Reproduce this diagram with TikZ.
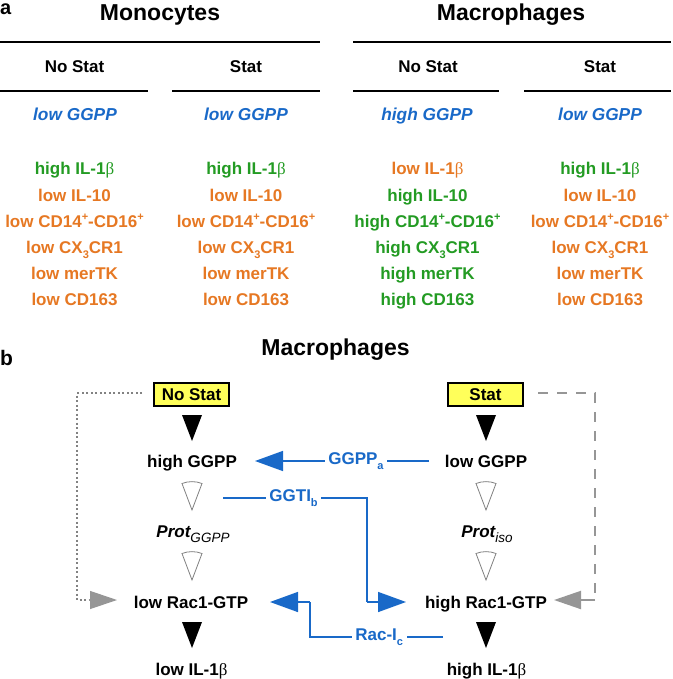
\documentclass[tikz,border=0pt]{standalone}
\usepackage{fontspec}
\setmainfont{Liberation Sans}
\newfontfamily\betafont{Liberation Serif}
\usetikzlibrary{arrows.meta}
\definecolor{myblue}{RGB}{25,105,200}
\definecolor{mygreen}{RGB}{35,155,35}
\definecolor{myorange}{RGB}{230,120,35}
\definecolor{myyellow}{RGB}{255,255,90}
\definecolor{mygray}{RGB}{150,150,150}
\definecolor{dotgray}{RGB}{130,130,130}
\newcommand\lsub[1]{\raisebox{-0.3em}{\fontsize{11}{11}\selectfont #1}}
\newcommand\lsup[1]{\raisebox{0.42em}{\fontsize{11}{11}\selectfont #1}}
\newcommand\bet{{\betafont\mdseries β}}
\newcommand\openwedge[2]{\draw[wedgestyle] (#1-10,#2+1.5) .. controls (#1-4,#2-1) and (#1+4,#2-1) .. (#1+10,#2+1.5) -- (#1,#2+28) -- cycle;}
\newcommand\blackwedge[2]{\fill[black] (#1-10,#2) -- (#1+10,#2) -- (#1,#2+26) -- cycle;}
\tikzset{
  titlestyle/.style={font=\fontsize{23}{26}\selectfont\bfseries, anchor=base, inner sep=0},
  hdr/.style={font=\fontsize{17}{20}\selectfont\bfseries, anchor=base, inner sep=0},
  grn/.style={hdr, text=mygreen},
  org/.style={hdr, text=myorange},
  ggstyle/.style={font=\fontsize{17.3}{20}\selectfont\bfseries\itshape, anchor=base, inner sep=0, text=myblue},
  rulestyle/.style={line width=2pt},
  boxstyle/.style={draw, line width=2pt, fill=myyellow, minimum width=75pt, minimum height=23pt, inner sep=0, font=\fontsize{17}{20}\selectfont\bfseries},
  bl/.style={myblue, line width=1.5pt},
  btip/.style={-{Triangle[length=28pt,width=20pt]}},
  gtip/.style={-{Triangle[length=27pt,width=18pt]}},
  bluelabel/.style={font=\fontsize{17}{20}\selectfont\bfseries, text=myblue, fill=white, inner sep=3.5pt},
  wedgestyle/.style={draw=gray, line width=0.8pt, fill=white},
}
\begin{document}
\begin{tikzpicture}[x=1pt,y=-1pt]
\useasboundingbox (0,0) rectangle (672,679);
% ---------- part a ----------
\node[titlestyle, anchor=base west, font=\fontsize{20}{24}\selectfont\bfseries] (la) at (0,15) {a};
\node[titlestyle] (mono) at (160,21) {Monocytes};
\node[titlestyle] (macro) at (511,21) {Macrophages};
\draw[rulestyle] (0,41.7) -- (320,41.7);
\draw[rulestyle] (353,41.7) -- (671,41.7);
\draw[rulestyle] (0,90.7) -- (148,90.7);
\draw[rulestyle] (172,90.7) -- (320,90.7);
\draw[rulestyle] (353,90.7) -- (499,90.7);
\draw[rulestyle] (524,90.7) -- (671,90.7);
\node[hdr] (h1) at (74.5,73) {No Stat};
\node[hdr] (h2) at (246,73) {Stat};
\node[hdr] (h3) at (428,73) {No Stat};
\node[hdr] (h4) at (600,73) {Stat};
\node[ggstyle] (g1) at (75,121) {low GGPP};
\node[ggstyle] (g2) at (246,121) {low GGPP};
\node[ggstyle] (g3) at (427,121) {high GGPP};
\node[ggstyle] (g4) at (600,121) {low GGPP};
% column 1
\node[grn] (a11) at (74.5,175) {high IL-1\bet};
\node[org] (a12) at (74.5,201.1) {low IL-10};
\node[org] (a13) at (74.5,227.3) {low CD14\lsup{+}-CD16\lsup{+}};
\node[org] (a14) at (74.5,253.4) {low CX\lsub{3}CR1};
\node[org] (a15) at (74.5,279.6) {low merTK};
\node[org] (a16) at (74.5,305.7) {low CD163};
% column 2
\node[grn] (a21) at (246,175) {high IL-1\bet};
\node[org] (a22) at (246,201.1) {low IL-10};
\node[org] (a23) at (246,227.3) {low CD14\lsup{+}-CD16\lsup{+}};
\node[org] (a24) at (246,253.4) {low CX\lsub{3}CR1};
\node[org] (a25) at (246,279.6) {low merTK};
\node[org] (a26) at (246,305.7) {low CD163};
% column 3
\node[org] (a31) at (427.5,175) {low IL-1\bet};
\node[grn] (a32) at (427.5,201.1) {high IL-10};
\node[grn] (a33) at (427.5,227.3) {high CD14\lsup{+}-CD16\lsup{+}};
\node[grn] (a34) at (427.5,253.4) {high CX\lsub{3}CR1};
\node[grn] (a35) at (427.5,279.6) {high merTK};
\node[grn] (a36) at (427.5,305.7) {high CD163};
% column 4
\node[grn] (a41) at (600,175) {high IL-1\bet};
\node[org] (a42) at (600,201.1) {low IL-10};
\node[org] (a43) at (600,227.3) {low CD14\lsup{+}-CD16\lsup{+}};
\node[org] (a44) at (600,253.4) {low CX\lsub{3}CR1};
\node[org] (a45) at (600,279.6) {low merTK};
\node[org] (a46) at (600,305.7) {low CD163};
% ---------- part b ----------
\node[titlestyle, anchor=base west, font=\fontsize{21}{24}\selectfont\bfseries] (lb) at (0,365) {b};
\node[titlestyle] (macrob) at (335.5,355) {Macrophages};
\node[boxstyle] (nostat) at (191.5,394.5) {No Stat};
\node[boxstyle] (stat) at (485.5,394.5) {Stat};
\node[hdr] (highggpp) at (192,467) {high GGPP};
\node[hdr] (lowggpp) at (486,467) {low GGPP};
\node[hdr] (protL) at (193,537) {\itshape Prot\lsub{\mdseries\fontsize{13.5}{14}\selectfont GGPP}};
\node[hdr] (protR) at (487,537) {\itshape Prot\lsub{\mdseries\fontsize{13.5}{14}\selectfont iso}};
\node[hdr] (lowrac) at (191,608) {low Rac1-GTP};
\node[hdr] (highrac) at (486,608) {high Rac1-GTP};
\node[hdr] (lowil) at (191.5,675) {low IL-1\bet};
\node[hdr] (highil) at (486.5,675) {high IL-1\bet};
% wedges
\blackwedge{192}{415}
\blackwedge{486}{415}
\blackwedge{192}{622}
\blackwedge{486}{622}
\openwedge{192}{482}
\openwedge{192}{552}
\openwedge{486}{482}
\openwedge{486}{552}
% gray feedback connectors
\coordinate (d1) at (142,393);
\coordinate (d2) at (77,393);
\coordinate (d3) at (77,600);
\coordinate (d4) at (117,600);
\draw[dotgray, line width=1.2pt, dash pattern=on 2pt off 2.5pt] (d1) -- (d2) -- (d3) -- (90,600);
\draw[mygray, line width=1.2pt, gtip] (89,600) -- (d4);
\coordinate (e1) at (538,393);
\coordinate (e2) at (595,393);
\coordinate (e3) at (595,600);
\coordinate (e4) at (554,600);
\draw[mygray, line width=2pt, dash pattern=on 10pt off 9pt] (e1) -- (e2) -- (e3);
\draw[mygray, line width=2pt, gtip] (e3) -- (e4);
% blue inhibitors
\coordinate (ga1) at (429,461);
\coordinate (ga2) at (255,461);
\draw[bl, btip] (ga1) -- node[bluelabel, pos=0.42] (gga) {GGPP\lsub{a}} (ga2);
\coordinate (gb1) at (223,498);
\coordinate (gb2) at (367,498);
\coordinate (gb3) at (367,602);
\coordinate (gb4) at (406,602);
\draw[bl] (gb1) -- node[bluelabel, pos=0.49] (ggti) {GGTI\lsub{b}} (gb2) -- (gb3);
\draw[bl, btip] (gb3) -- (gb4);
\coordinate (rc1) at (443,637);
\coordinate (rc2) at (310,637);
\coordinate (rc3) at (310,602);
\coordinate (rc4) at (270,602);
\draw[bl] (rc1) -- node[bluelabel, pos=0.48] (raci) {Rac-I\lsub{c}} (rc2) -- (rc3);
\draw[bl, btip] (rc3) -- (rc4);
\end{tikzpicture}
\end{document}
